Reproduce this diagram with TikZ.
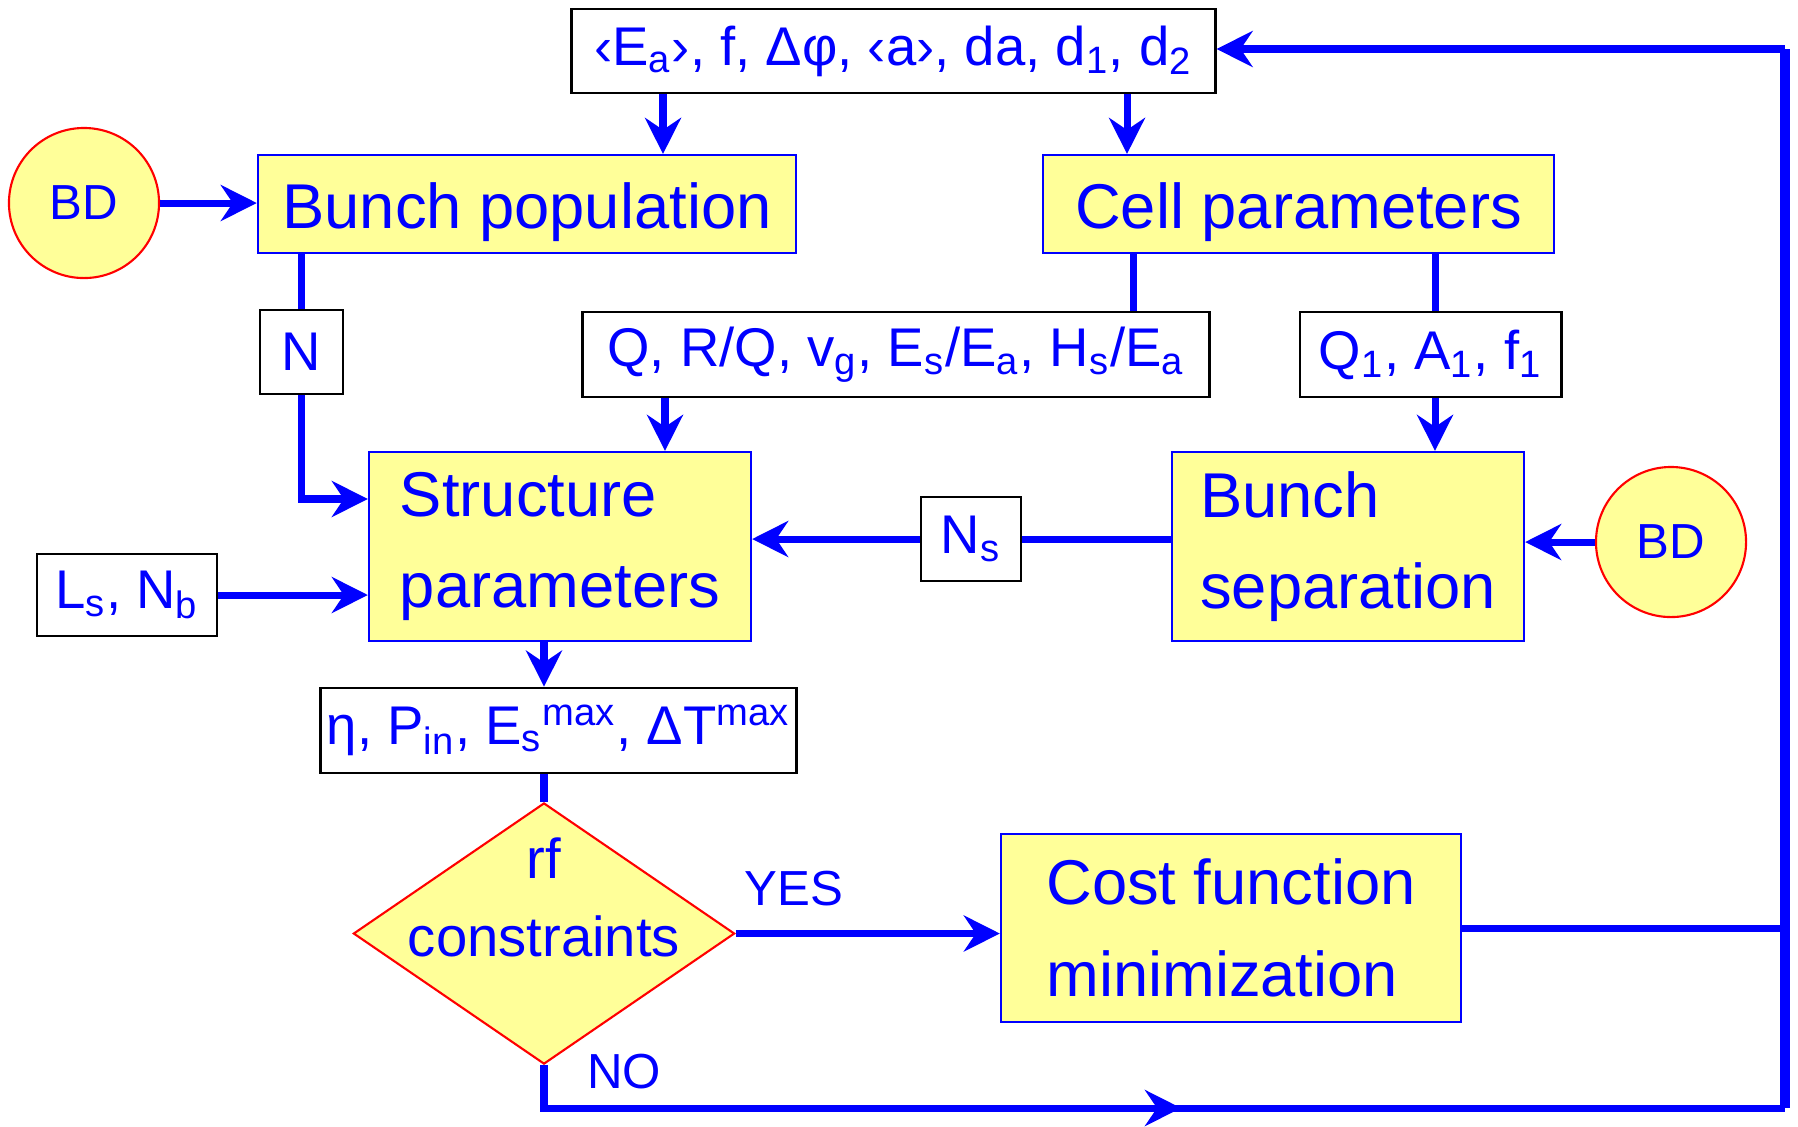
\documentclass[tikz,border=0pt]{standalone}
\usepackage{fontspec}
\setmainfont{Liberation Sans}
\usepackage{xcolor}
\usepackage{tikz}
\usetikzlibrary{arrows.meta,positioning,shapes.geometric}

\definecolor{boxyellow}{RGB}{255,255,153}
\definecolor{flowblue}{RGB}{0,0,255}

\begin{document}
\begin{tikzpicture}[x=0.01cm, y=-0.01cm, text=flowblue,
  block/.style={draw=flowblue, line width=0.6pt, fill=boxyellow, align=left, inner sep=2pt,
    font=\fontsize{18}{26}\selectfont},
  param/.style={draw=black, line width=0.8pt, fill=white, inner sep=1pt,
    font=\fontsize{15.5}{18}\selectfont},
  src/.style={circle, draw=red, line width=0.6pt, fill=boxyellow, minimum size=1.5cm,
    inner sep=0pt, font=\fontsize{14}{16}\selectfont},
  test/.style={diamond, draw=red, line width=0.6pt, fill=boxyellow, inner sep=0pt,
    minimum width=3.81cm, minimum height=2.61cm},
  testtext/.style={align=center, font=\fontsize{16}{22}\selectfont},
  lbl/.style={font=\fontsize{14}{16}\selectfont},
  line/.style={draw=flowblue, line width=2pt},
  flow/.style={line, -{Stealth[length=0.36cm, width=0.36cm, inset=0.12cm]}}]

\useasboundingbox (0,0) rectangle (1798,1126);

% ---------- top row ----------
\node[param, minimum width=6.43cm, minimum height=0.84cm] (top) at (893.5,51)
  {‹E\textsubscript{a}›, f, Δφ, ‹a›, da, d\textsubscript{1}, d\textsubscript{2}};
\node[src] (bdL) at (84,203) {BD};
\node[block, minimum width=5.38cm, minimum height=0.98cm, text height=0.62cm] (pop) at (527,204)
  {Bunch population};
\node[block, minimum width=5.11cm, minimum height=0.98cm, text height=0.62cm] (cell) at (1298.5,204)
  {Cell parameters};

% ---------- derived quantities ----------
\node[param, minimum width=0.83cm, minimum height=0.84cm] (nN) at (301.5,352) {N};
\node[param, minimum width=6.26cm, minimum height=0.85cm] (qbox) at (896,354.5)
  {Q, R/Q, v\textsubscript{g}, E\textsubscript{s}/E\textsubscript{a}, H\textsubscript{s}/E\textsubscript{a}};
\node[param, minimum width=2.61cm, minimum height=0.85cm] (q1) at (1430.5,354.5)
  {Q\textsubscript{1}, A\textsubscript{1}, f\textsubscript{1}};

% ---------- middle row ----------
\node[block, minimum width=3.82cm, minimum height=1.89cm] (struct) at (560,546.5)
  {Structure\\parameters};
\node[block, minimum width=3.52cm, minimum height=1.89cm] (sep) at (1348,546.5)
  {Bunch\\separation};
\node[param, minimum width=1.00cm, minimum height=0.84cm] (ns) at (971,539) {N\textsubscript{s}};
\node[src] (bdR) at (1671,542) {BD};
\node[param, minimum width=1.80cm, minimum height=0.82cm] (ls) at (127,595)
  {L\textsubscript{s}, N\textsubscript{b}};

% ---------- bottom row ----------
\node[param, minimum width=4.75cm, minimum height=0.85cm] (eta) at (558.5,730.5)
  {η, P\textsubscript{in}, E\textsubscript{s}\textsuperscript{max}, ΔT\textsuperscript{max}};
\node[test] (rf) at (544,933.5) {};
\node[testtext] (rftext) at ([yshift=0.36cm]rf.center) {rf\\constraints};
\node[block, minimum width=4.60cm, minimum height=1.88cm] (cost) at (1231,928)
  {Cost function\\minimization};
\node[lbl, anchor=west] (no) at (575,1072) {NO};
\coordinate (rt) at (1785,49);
\coordinate (rb) at (1785,1108);

% ---------- connectors ----------
\draw[flow] (top.south -| 663,0) -- (pop.north -| 663,0);
\draw[flow] (top.south -| 1127,0) -- (cell.north -| 1127,0);
\draw[flow] (bdL) -- (pop.west |- bdL);
\draw[line] (pop.south -| nN) -- (nN);
\draw[flow] (nN.south) |- ([yshift=0.475cm]struct.west);
\draw[line] (cell.south -| 1133,0) -- (qbox.north -| 1133,0);
\draw[flow] (qbox.south -| 665,0) -- (struct.north -| 665,0);
\draw[line] (cell.south -| 1435,0) -- (q1.north -| 1435,0);
\draw[flow] (q1.south -| 1435,0) -- (sep.north -| 1435,0);
\draw[line] (sep.west |- ns) -- (ns);
\draw[flow] (ns) -- (struct.east |- ns);
\draw[flow] (bdR) -- (sep.east |- bdR);
\draw[flow] (ls) -- (struct.west |- ls);
\draw[flow] (struct.south -| 544,0) -- (eta.north -| 544,0);
\draw[line] (eta.south -| rf.north) -- (rf.north);
\draw[flow] (rf.east) -- (cost.west |- rf.east)
  node[lbl, pos=0.22, above=0.12cm] {YES};

% ---------- feedback loop ----------
\draw[line] (cost.east) -- (cost.east -| rt);
\draw[line] (rf.south) |- (rb);
\draw[flow] (rf.south |- rb) -- (1181,0 |- rb);
\draw[line, line width=2.8pt] (rb) -- (rt);
\draw[flow] (rt) -- (top.east |- rt);
\end{tikzpicture}
\end{document}
